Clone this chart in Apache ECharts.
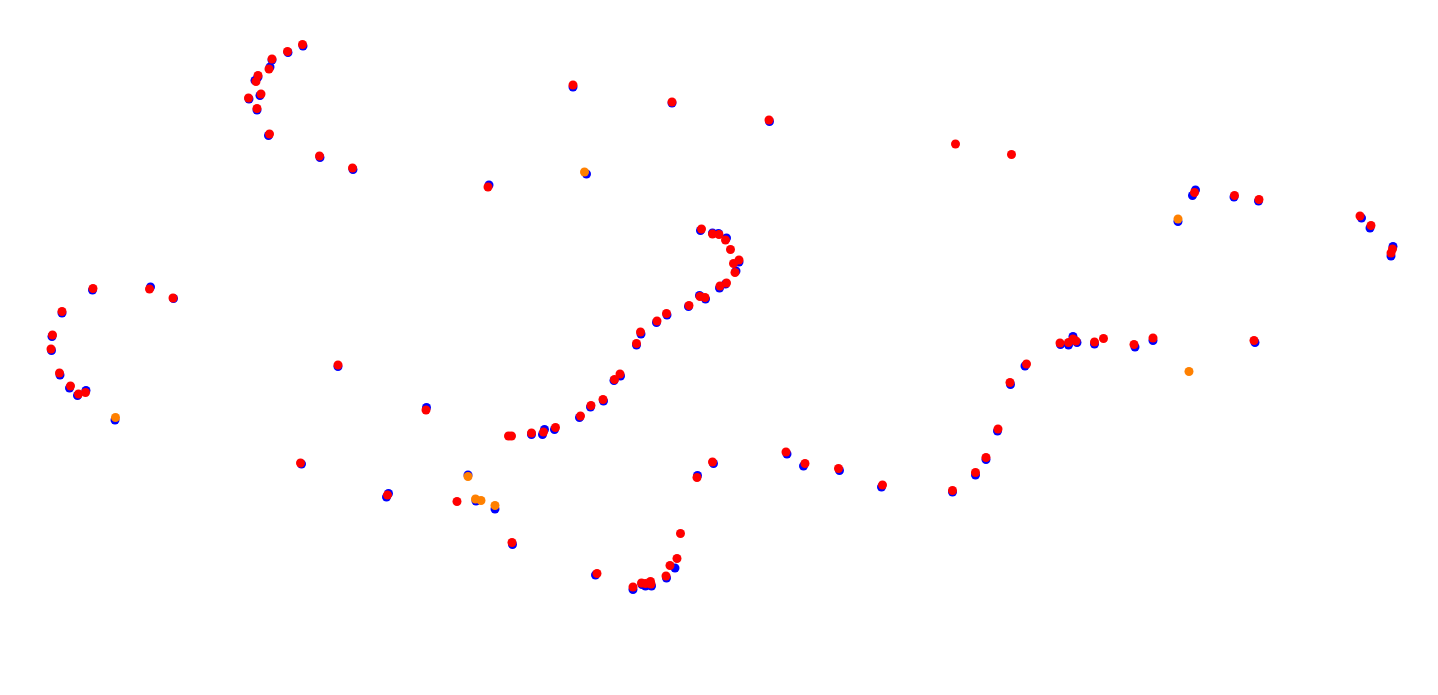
<!DOCTYPE html>
<html>
<head>
<meta charset="utf-8">
<script src="https://cdn.jsdelivr.net/npm/echarts@6/dist/echarts.min.js"></script>
<style>html,body{margin:0;padding:0;background:#fff}#chart{width:1438px;height:695px}</style>
</head>
<body>
<div id="chart"></div>
<script>
const bluePoints = [
[303,46],[288,52.5],[272,60],[270,67],[258,77],[255,80.5],[260,95.5],[249,99],[257,110],[268.5,135.5],[320,157.5],[353,169.5],
[92.5,290],[150.5,287],[173.5,298.5],[62,313],[52,336.5],[51.5,350.5],[60,375],[69.5,388],[77.5,395.5],[86,390.5],[115,420],
[573,87],[672,103],[769.5,121.5],[489,185],[586.5,174],
[338,366.5],[426.5,407.5],[531.5,434.5],[544.5,429.5],[542.5,434.5],[554.5,429.5],[301.5,464],[388.5,493.5],[386.5,497],[512.5,544.5],[468,475],[476,501],[495,509],
[725.5,284],[719.5,288],[705.5,299],[699.5,295.5],[688.5,306.5],[667,315],[656.5,322.5],[641,334],[636.5,345],[620.5,376],[614,380.5],[603.5,401],[590.5,407],[579.5,417.5],[713.5,463.5],[697.5,475.5],
[700.5,230.5],[712.5,233],[718.5,233.5],[726.5,238],[739,262],[736,271],
[675,568],[666.5,578],[595.5,575],[633,589.5],[642,584.5],[645.5,586],[651.5,586],
[787,454],[803.5,466],[839.5,470.5],[881.5,487],[952.5,492],[975.5,475],[986,459.5],[997.5,431],[1010.5,384.5],[1025,366],[1060.5,344.5],[1068.5,345],[1073,336.5],[1077,342.5],[1094.5,344],[1135,347],[1153,340.5],[1255,342.5],
[1195.5,190],[1192.5,195.5],[1234,197],[1258.5,201],[1361.5,218],[1370,228],[1393,246.5],[1391,256],[1178,221.5]
];
const orangePoints = [
[115.5,417.5],[584.5,172],[468,476.5],[475.5,499],[481,500.5],[495,505.5],[1178,219],[1189,371.5]
];
const redPoints = [
[302.5,44.5],[287.5,51.5],[272,59],[269,69],[258,75.5],[256,81.5],[261,94],[248.5,98],[257,108.5],[269.5,134],[319.5,156],[352.5,168],
[93,288.5],[149.5,289],[173,298],[62,311.5],[52.5,335],[51,349],[59.5,373],[70.5,386],[78.5,394],[85.5,392.5],
[573,85],[672,102],[769,120],[488,187],
[338,365],[426,410],[508.5,436],[511.5,436],[531.5,433],[543.5,432],[555.5,427.5],[300.5,463],[387.5,495],[457,501.5],[512,542.5],
[726.5,283],[720,286],[705,297.5],[700,296.5],[689,305.5],[666.5,313.5],[657,321],[640.5,332],[636.5,343.5],[620,374],[614.5,379.5],[603,399.5],[591,405.5],[580.5,416],[712.5,462],[697,477.5],
[701.5,229],[712.5,234],[719,234.5],[725.5,240],[730.5,249.5],[739,260],[733.5,263.5],[735,272.5],
[680.5,533.5],[677,558.5],[670,565.5],[666,576],[597,573.5],[633,587],[641.5,583],[645.5,583.5],[651,584],[650.5,581.5],
[786,452],[805,463.5],[838.5,468.5],[882.5,485],[952.5,490.5],[975.5,472.5],[986,457.5],[998,429],[1010,382.5],[1026.5,364],[1060,343],[1068.5,342.5],[1073,339],[1076,341],[1094.5,342],[1103.5,338.5],[1134,344.5],[1153,338],[1254,340.5],
[1194.5,192.5],[1234.5,195.5],[1259,199.5],[1360,216],[1371,225.5],[1392.5,249],[1391,253],
[955.5,144],[1011.5,154.5]
];
const chart = echarts.init(document.getElementById('chart'), null, {renderer:'canvas'});
chart.setOption({
  animation: false,
  backgroundColor: '#ffffff',
  grid: {left:0, right:0, top:0, bottom:0},
  xAxis: {type:'value', min:0, max:1438, show:false},
  yAxis: {type:'value', min:0, max:695, inverse:true, show:false},
  series: [
    {name:'blue', type:'scatter', data: bluePoints, symbolSize: 9, itemStyle:{color:'#0000ff', opacity:1}},
    {name:'orange', type:'scatter', data: orangePoints, symbolSize: 9, itemStyle:{color:'#ff8000', opacity:1}},
    {name:'red', type:'scatter', data: redPoints, symbolSize: 9, itemStyle:{color:'#ff0000', opacity:1}}
  ]
});
</script>
</body>
</html>
